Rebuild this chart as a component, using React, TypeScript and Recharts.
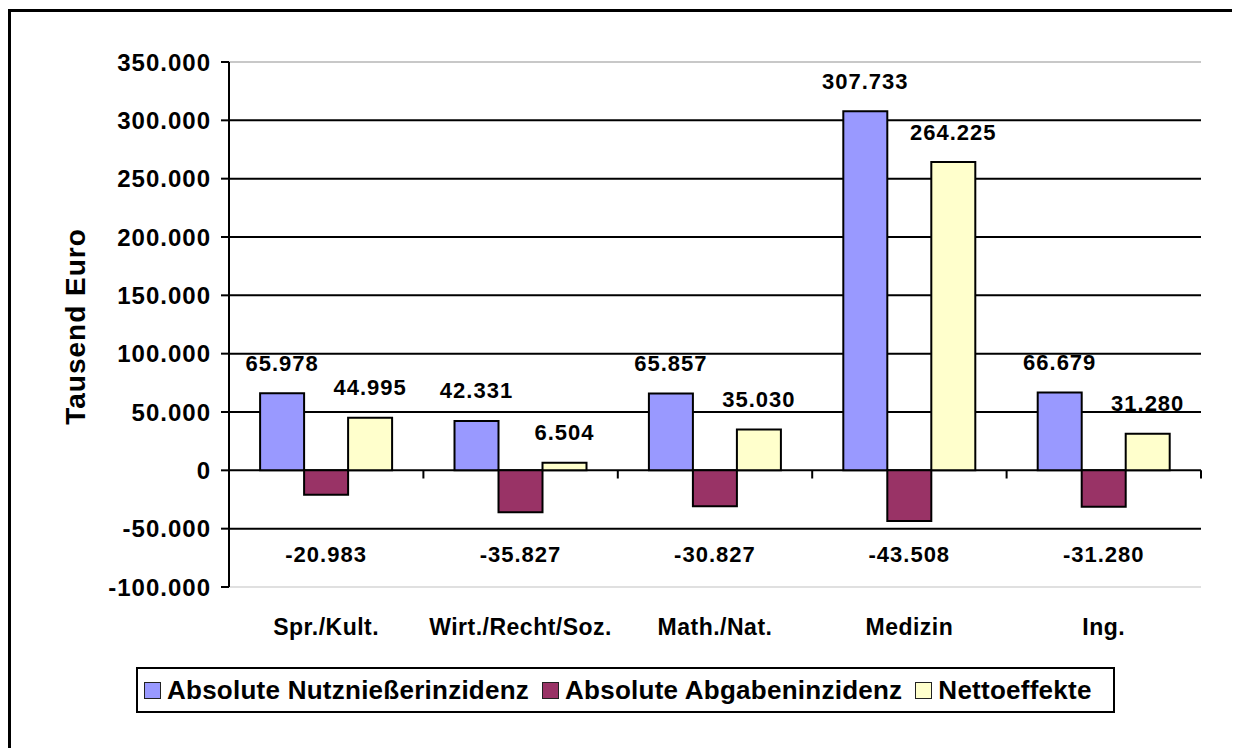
import { BarChart, Bar, XAxis, YAxis, CartesianGrid, ReferenceLine, Legend, LabelList, Label } from 'recharts'

const categories = ['Spr./Kult.', 'Wirt./Recht/Soz.', 'Math./Nat.', 'Medizin', 'Ing.']
const nutzniesser = [65978, 42331, 65857, 307733, 66679]
const abgaben = [-20983, -35827, -30827, -43508, -31280]
const netto = [44995, 6504, 35030, 264225, 31280]
const yTicks = [-100000, -50000, 0, 50000, 100000, 150000, 200000, 250000, 300000, 350000]

const SERIES = [
  { key: 'nutz', name: 'Absolute Nutznießerinzidenz', color: '#9999FF' },
  { key: 'abg', name: 'Absolute Abgabeninzidenz', color: '#993366' },
  { key: 'netto', name: 'Nettoeffekte', color: '#FFFFCC' },
]

const FONT = '"Liberation Sans", Arial, Helvetica, sans-serif'
// tiefe der kleinen striche an der nulllinie (in datenwerten)
const TICK_DEPTH = 7000

const formatDe = (v: number) => {
  const s = Math.abs(Math.round(v))
    .toString()
    .replace(/\B(?=(\d{3})+(?!\d))/g, '.')
  return (v < 0 ? '-' : '') + s
}

const renderValueLabel = (props: any) => {
  const { x, y, width, height, value } = props
  const top = Math.min(Number(y), Number(y) + Number(height))
  const cx = Number(x) + Number(width) / 2
  // negative werte stehen unterhalb der nulllinie, positive über dem balken
  const ty = value < 0 ? top + 84 : top - 30
  return (
    <text
      x={cx}
      y={ty}
      textAnchor="middle"
      dominantBaseline="central"
      fill="#000"
      style={{ fontFamily: FONT, fontSize: 22, fontWeight: 700, letterSpacing: 1 }}
    >
      {formatDe(value)}
    </text>
  )
}

const renderAxisTitle = (props: any) => {
  const vb = props.viewBox || { x: 0, y: 54, width: 221, height: 525 }
  const cx = vb.x + 67
  const cy = vb.y + vb.height / 2 + 2
  return (
    <text
      x={cx}
      y={cy}
      transform={`rotate(-90, ${cx}, ${cy})`}
      textAnchor="middle"
      dominantBaseline="central"
      fill="#000"
      style={{ fontFamily: FONT, fontSize: 28, fontWeight: 700, letterSpacing: 1 }}
    >
      Tausend Euro
    </text>
  )
}

const renderLegend = () => (
  <div
    style={{
      boxSizing: 'border-box',
      width: 979,
      height: 46,
      border: '2px solid #000',
      background: '#fff',
      display: 'flex',
      alignItems: 'center',
      paddingLeft: 6,
      fontFamily: FONT,
    }}
  >
    {SERIES.map((s) => (
      <div key={s.key} style={{ display: 'flex', alignItems: 'center', marginRight: 13 }}>
        <span
          style={{
            display: 'inline-block',
            width: 15,
            height: 15,
            border: '1.5px solid #222',
            background: s.color,
            marginRight: 6,
          }}
        />
        <span style={{ fontSize: 26, fontWeight: 700, letterSpacing: 0.25, color: '#000' }}>{s.name}</span>
      </div>
    ))}
  </div>
)

export default function App() {
  const data = categories.map((name, i) => ({
    name,
    nutz: nutzniesser[i],
    abg: abgaben[i],
    netto: netto[i],
  }))

  return (
    <div style={{ position: 'relative', width: 1232, height: 740, overflow: 'hidden', fontFamily: FONT }}>
      <div
        style={{
          position: 'absolute',
          left: 0,
          top: 1,
          width: 1232,
          height: 739,
          borderLeft: '3px solid #000',
          borderTop: '3px solid #000',
          boxSizing: 'border-box',
        }}
      />
      <BarChart
        width={1232}
        height={740}
        data={data}
        margin={{ top: 54, right: 39, bottom: 101, left: 0 }}
        barCategoryGap="16%"
        barGap={0}
        style={{ position: 'absolute', left: 0, top: 0 }}
      >
        <CartesianGrid vertical={false} stroke="#000" strokeWidth={2} />
        <ReferenceLine y={350000} stroke="#c8c8c8" strokeWidth={2} />
        <ReferenceLine y={-100000} stroke="#e0e0e0" strokeWidth={2} />
        <XAxis
          dataKey="name"
          height={60}
          axisLine={false}
          tickLine={false}
          tickMargin={26}
          interval={0}
          tick={{ fill: '#000', fontSize: 23, fontWeight: 700, letterSpacing: 0.5, fontFamily: FONT }}
        />
        <YAxis
          width={221}
          domain={[-100000, 350000]}
          ticks={yTicks}
          interval={0}
          tickFormatter={formatDe}
          axisLine={{ stroke: '#000', strokeWidth: 2 }}
          tickLine={{ stroke: '#000', strokeWidth: 2 }}
          tickSize={8}
          tickMargin={10}
          tick={{ fill: '#000', fontSize: 24, fontWeight: 700, letterSpacing: 1, fontFamily: FONT }}
        >
          <Label content={renderAxisTitle} />
        </YAxis>
        {SERIES.map((s) => (
          <Bar
            key={s.key}
            dataKey={s.key}
            name={s.name}
            fill={s.color}
            stroke="#000"
            strokeWidth={2}
            isAnimationActive={false}
          >
            <LabelList dataKey={s.key} content={renderValueLabel} />
          </Bar>
        ))}
        {categories.map((c) => (
          <ReferenceLine
            key={c}
            segment={[
              { x: c, y: 0 },
              { x: c, y: -TICK_DEPTH },
            ]}
            position="end"
            stroke="#000"
            strokeWidth={2}
          />
        ))}
        <Legend
          layout="horizontal"
          verticalAlign="middle"
          align="center"
          content={renderLegend}
          wrapperStyle={{ left: 128, top: 659, width: 979, height: 46 }}
        />
      </BarChart>
    </div>
  )
}
